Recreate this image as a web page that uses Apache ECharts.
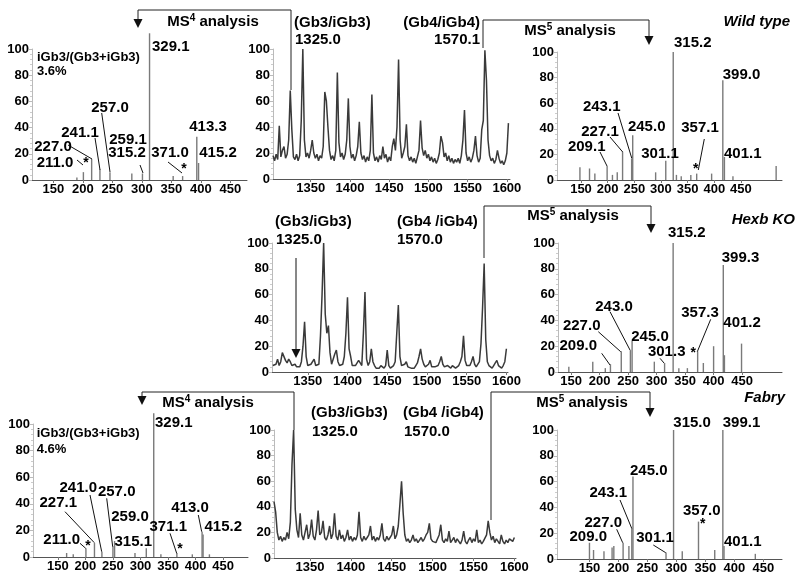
<!DOCTYPE html>
<html><head><meta charset="utf-8">
<script src="https://cdn.jsdelivr.net/npm/echarts@6/dist/echarts.min.js"></script>
<style>html,body{margin:0;padding:0;background:#fff}#c{width:800px;height:580px}</style>
</head><body><div id="c"></div>
<script>
const FONT = "'Liberation Sans', Arial, sans-serif";

// ---- tick labels ----
const lowTicks = [150, 200, 250, 300, 350, 400, 450];
const highTicks = [1350, 1400, 1450, 1500, 1550, 1600];

// ---- data: [m/z, relative intensity] ----
const wtMs4Peaks = [[190,2],[201,6],[215,16],[229,8],[246,6],[283,5],[301,5],[313,112],[353,3],[369,3],[393,33],[396,13]];
const wtMs5Peaks = [[148,10],[166,9],[176,5],[199,11],[209,4],[218,6],[228,22],[245,17],[247,35],[290,6],[309,15],[323,100],[329,4],[338,3],[356,4],[367,5],[395,5],[416,78],[419,18],[435,3],[516,11]];
const hexbMs5Peaks = [[146,4],[188,8],[210,3],[219,6],[238,16],[254,17],[257,24],[296,8],[314,7],[329,100],[339,3],[354,3],[372,16],[382,7],[400,20],[417,83],[419,13],[449,22]];
const fabryMs4Peaks = [[166,3],[178,2],[201,6.5],[216.5,10.5],[230,4],[250,8],[253,12],[290,3],[310.5,6.5],[324,108],[337,2],[366,3],[394,2],[411.7,19],[413.5,17],[425,2]];
const fabryMs5Peaks = [[150,12.6],[157,7],[175,6],[189,9],[192,10],[208,12.6],[218,10],[223,24],[225,64],[282,5],[295,100],[310,6],[338,29],[366,7],[380,100],[382,10],[436,4]];

// full-scan spectra: intensities every 2 m/z units from the start value
const fullStep = 2;
const wtFullStart = 1302;
const wtFullValues = [
 18,14,19,15,41,17,22,25,16,19,
 30,68,38,17,15,19,14,18,45,100,
 30,17,20,16,22,30,20,16,19,14,
 18,16,25,67,60,40,22,15,18,14,
 22,82,28,17,20,15,19,30,62,25,
 16,19,14,18,25,44,20,15,18,13,
 17,14,22,65,20,14,17,13,18,15,
 25,16,19,13,17,14,25,31,22,40,
 92,30,16,20,25,42,18,14,17,13,
 16,12,17,22,45,24,18,22,16,19,
 14,17,13,16,12,15,20,33,28,17,
 20,14,18,13,16,12,15,13,16,12,
 18,30,53,20,14,17,13,16,22,33,
 18,13,16,38,45,99,76,30,18,14,
 16,12,15,22,16,12,14,11,14,20,
 43];
const hexbFullStart = 1306;
const hexbFullValues = [
 5,4,6,10,5,8,15,16,9,7,
 10,8,5,4,6,4,5,4,8,20,
 39,12,5,4,6,7,10,5,4,6,
 28,60,100,45,30,36,15,6,5,14,
 17,8,5,4,6,12,30,58,18,12,
 5,4,5,6,9,7,5,30,62,10,
 5,8,18,8,5,3,4,3,5,4,
 3,5,17,5,3,4,5,8,30,52,
 12,5,4,6,8,4,5,3,4,3,
 5,7,12,18,10,6,4,5,6,9,
 4,3,4,3,5,8,12,6,4,3,
 5,4,3,5,4,3,4,5,8,12,
 28,9,5,4,5,8,12,6,4,5,
 8,22,50,84,25,8,5,4,3,5,
 7,9,5,4,3,5,8,18];
const fabryFullStart = 1306;
const fabryFullValues = [
 44,36,20,14,17,13,16,14,20,15,
 28,73,100,38,22,16,35,18,14,20,
 26,15,19,30,17,14,22,37,18,20,
 29,16,14,18,25,15,19,35,17,14,
 22,15,18,13,16,22,14,17,13,16,
 14,18,36,16,13,17,14,16,18,25,
 14,17,13,16,14,18,27,15,13,17,
 14,16,18,25,15,18,25,42,60,35,
 18,13,15,12,14,18,13,15,12,14,
 16,13,15,18,20,27,15,13,14,12,
 15,18,26,14,12,15,13,21,12,14,
 16,12,15,13,11,14,21,13,11,14,
 16,12,15,13,22,12,14,11,13,12,
 18,29,20,14,17,12,15,13,11,18,
 13,11,14,12,15,16,13,16];

const toPairs = (start, vals) => vals.map((v, k) => [start + k * fullStep, v]);

// ---- panel layout ----
const panels = [
  {grid:{left:32,top:49,width:215,height:131}, range:[114,478], ticks:lowTicks, stick:wtMs4Peaks},
  {grid:{left:273,top:49,width:237,height:130}, range:[1302,1604], ticks:highTicks, line:toPairs(wtFullStart, wtFullValues)},
  {grid:{left:557,top:52,width:225,height:128}, range:[105,527], ticks:lowTicks, stick:wtMs5Peaks},
  {grid:{left:272,top:243,width:236,height:129}, range:[1305,1602], ticks:highTicks, line:toPairs(hexbFullStart, hexbFullValues)},
  {grid:{left:558,top:243,width:224,height:129}, range:[127,520], ticks:lowTicks, stick:hexbMs5Peaks},
  {grid:{left:33,top:424,width:215,height:133}, range:[105,495], ticks:lowTicks, stick:fabryMs4Peaks},
  {grid:{left:274,top:430,width:242,height:128}, range:[1306,1602], ticks:highTicks, line:toPairs(fabryFullStart, fabryFullValues)},
  {grid:{left:557,top:430,width:225,height:129}, range:[94,482], ticks:lowTicks, stick:fabryMs5Peaks}
];

const axisFont = {fontFamily: FONT, fontWeight: 'bold', fontSize: 13, color: '#000'};
const grids = [], xAxes = [], yAxes = [], series = [];
panels.forEach((p, i) => {
  grids.push(Object.assign({outerBoundsMode: 'none', containLabel: false}, p.grid));
  xAxes.push({type:'value', gridIndex:i, min:p.range[0], max:p.range[1],
    axisLine:{show:true, onZero:false, lineStyle:{color:'#555', width:1}},
    axisTick:{show:true, customValues:p.ticks, length:3, lineStyle:{color:'#777'}},
    axisLabel:Object.assign({customValues:p.ticks, margin:3, formatter:(v) => String(v)}, axisFont),
    splitLine:{show:false}});
  yAxes.push({type:'value', gridIndex:i, min:0, max:100, interval:20,
    axisLine:{show:true, lineStyle:{color:'#bbb', width:1}},
    axisTick:{show:true, length:3, lineStyle:{color:'#bbb'}},
    minorTick:{show:true, splitNumber:5, length:2, lineStyle:{color:'#ccc'}},
    axisLabel:Object.assign({margin:3}, axisFont),
    splitLine:{show:false}});
  if (p.stick) {
    series.push({type:'bar', xAxisIndex:i, yAxisIndex:i, data:p.stick, barWidth:1.4,
      clip:false, silent:true, itemStyle:{color:'#7a7a7a'}});
  } else {
    series.push({type:'line', xAxisIndex:i, yAxisIndex:i, data:p.line, symbol:'none',
      silent:true, lineStyle:{color:'#3a3a3a', width:1.5}});
  }
});

// ---- annotations (pixel layout) ----
const g = [];
function T(x, y, text, align, size, italic) {
  g.push({type:'text', x:x, y:y, silent:true, z:10, style:{text:text, fill:'#000',
    fontFamily:FONT, fontWeight:'bold', fontSize:size || 15, fontStyle: italic ? 'italic' : 'normal',
    align:align || 'center', verticalAlign:'middle', textAlign:align || 'center', textVerticalAlign:'middle'}});
}
function MS(x, y, n) {
  g.push({type:'text', x:x, y:y, silent:true, z:10, style:{
    text:'{a|MS}{s|' + n + '}{a| analysis}', align:'center', verticalAlign:'middle', textAlign:'center', textVerticalAlign:'middle',
    rich:{a:{fontFamily:FONT, fontWeight:'bold', fontSize:15, fill:'#000', color:'#000', lineHeight:17},
          s:{fontFamily:FONT, fontWeight:'bold', fontSize:10, fill:'#000', color:'#000', lineHeight:17, verticalAlign:'top'}}}});
}
function L(x1, y1, x2, y2) {
  g.push({type:'line', silent:true, z:9, shape:{x1:x1, y1:y1, x2:x2, y2:y2}, style:{stroke:'#111', lineWidth:1}});
}
function P(points) {
  g.push({type:'polyline', silent:true, z:9, shape:{points:points}, style:{stroke:'#222', lineWidth:1, fill:null}});
}
function A(x, y) {
  g.push({type:'polygon', silent:true, z:9, shape:{points:[[x-4.5,y-9],[x+4.5,y-9],[x,y]]}, style:{fill:'#111'}});
}
function S(x, y) { T(x, y + 3, '*', 'center', 14); }

// Row 1
P([[291,90],[291,10],[138,10],[138,20]]); A(138,28); MS(213,22,'4');
P([[483,48],[483,20],[649,20],[649,37]]); A(649,45); MS(570,31,'5');
T(294,23,'(Gb3/iGb3)','left'); T(295,40,'1325.0','left');
T(480,23,'(Gb4/iGb4)','right'); T(480,40,'1570.1','right');
T(790,22,'Wild type','right',15,true);
T(37,57,'iGb3/(Gb3+iGb3)','left',13); T(37,71,'3.6%','left',13);
T(152,47,'329.1','left'); T(110,108,'257.0'); T(80,133,'241.1'); T(128,140,'259.1');
T(53,147,'227.0'); T(55,163,'211.0'); T(127,153,'315.2'); T(170,153,'371.0');
T(208,127,'413.3'); T(218,153,'415.2');
L(101.7,113,110,172); L(95,138,100,170); L(68,145,92,159); L(77,160,83,165); L(140,165,143,173); L(168,162,182,173);
S(86,160); S(184,166);
T(674,43,'315.2','left'); T(722.7,75,'399.0','left'); T(601.7,107,'243.1'); T(600,132,'227.1');
T(646.7,127,'245.0'); T(586.7,147,'209.1'); T(660,154,'301.1'); T(700,128,'357.1'); T(724,154,'401.1','left');
L(618,113,631.7,158); L(610,137,622.7,152); L(600,152,607,166); L(704.3,139,698.3,170);
S(695.7,166);

// Row 2
P([[484,258],[484,206],[651,206],[651,225]]); A(651,233); MS(573,216,'5');
T(795,220,'Hexb KO','right',15,true);
T(275,222,'(Gb3/iGb3)','left'); T(276,240,'1325.0','left');
T(397,222,'(Gb4 /iGb4)','left'); T(397,240,'1570.0','left');
L(296,258,296,350); A(296,358);
T(668,232.7,'315.2','left'); T(721.7,258.3,'399.3','left'); T(614,306.7,'243.0'); T(700,313,'357.3');
T(723.3,323.3,'401.2','left'); T(581.7,326,'227.0'); T(650,336.7,'245.0'); T(578.3,346,'209.0'); T(666.7,351.7,'301.3');
L(610,311.7,630,350); L(710.7,319.3,697.3,351.7); L(598.3,331.7,620.7,351.7); L(601.7,353.3,610,365); L(660,358.3,664,363);
S(693.3,350);

// Row 3
P([[294,430],[294,392],[142,392],[142,397]]); A(142,405); MS(208,403,'4');
P([[491,520],[491,392],[650,392],[650,409]]); A(650,417); MS(582,403,'5');
T(785,398,'Fabry','right',15,true);
T(311,413,'(Gb3/iGb3)','left'); T(312,432,'1325.0','left');
T(403,413,'(Gb4 /iGb4)','left'); T(404,432,'1570.0','left');
T(36.7,433.3,'iGb3/(Gb3+iGb3)','left',13); T(36.7,449,'4.6%','left',13);
T(155,423.3,'329.1','left'); T(78.3,488.3,'241.0'); T(116.7,491.7,'257.0'); T(58.3,503.3,'227.1');
T(130,516.7,'259.0'); T(190,508.3,'413.0'); T(168.3,526.7,'371.1'); T(223.3,526.7,'415.2');
T(61.7,540,'211.0'); T(133.3,541.7,'315.1');
L(90,495,101.7,551.7); L(106.7,498.3,112.7,546.7); L(65,511.7,94.3,542.7); L(198.3,515,201.7,531.7);
L(170,533.3,176.7,553.3); L(80,543.3,85.7,548.3);
S(180,546); S(88,543);
T(673.3,422.7,'315.0','left'); T(722.7,423.3,'399.1','left'); T(630,470.7,'245.0','left'); T(608.3,492.7,'243.1');
T(701.7,511,'357.0'); T(603.3,523.3,'227.0'); T(588.3,536.7,'209.0'); T(655,538.3,'301.1'); T(724,541.7,'401.1','left');
L(620,500,631.7,528.3); L(616.7,529.3,622.7,542.7); L(653.3,545,665.7,552.7);
S(702.7,521);

const chart = echarts.init(document.getElementById('c'), null, {renderer:'canvas'});
chart.setOption({
  animation:false,
  backgroundColor:'#fff',
  textStyle:{fontFamily:FONT},
  grid:grids, xAxis:xAxes, yAxis:yAxes, series:series,
  graphic:g
});
</script></body></html>
